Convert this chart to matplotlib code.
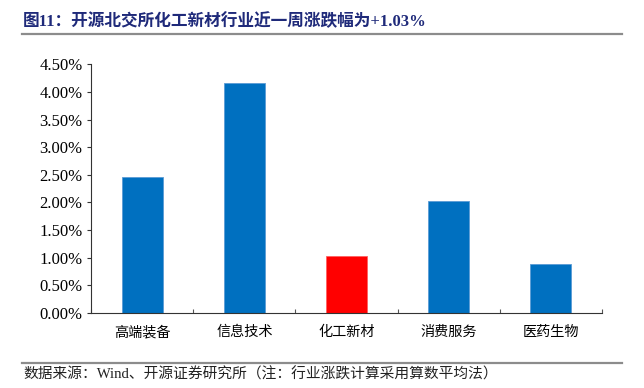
import matplotlib
matplotlib.use("Agg")
import matplotlib.pyplot as plt
from matplotlib.ticker import FuncFormatter, MultipleLocator
from matplotlib.lines import Line2D

categories = ["高端装备", "信息技术", "化工新材", "消费服务", "医药生物"]
values = [2.46, 4.17, 1.03, 2.02, 0.88]
bar_colors = ["#0070C0", "#0070C0", "#FF0000", "#0070C0", "#0070C0"]
title = "图11：开源北交所化工新材行业近一周涨跌幅为+1.03%"
source = "数据来源：Wind、开源证券研究所（注：行业涨跌计算采用算数平均法）"

fams = ["Liberation Serif", "Noto Sans CJK SC", "DejaVu Sans"]
plt.rcParams["font.family"] = fams

fig = plt.figure(figsize=(6.44, 3.88), dpi=100)
ax = fig.add_axes([91/644, 1-312.7/388, (602-91)/644, (312.7-64.3)/388])

x = list(range(len(categories)))
edge = ["#5B9BD5" if c != "#FF0000" else "#FF6060" for c in bar_colors]
ax.bar(x, values, width=0.40, color=bar_colors, edgecolor=edge, linewidth=0.6, zorder=2)

ax.set_xlim(-0.5, len(categories) - 0.5)
ax.set_ylim(0, 4.5)
ax.yaxis.set_major_locator(MultipleLocator(0.5))
ax.yaxis.set_major_formatter(FuncFormatter(lambda v, p: f"{v:.2f}%"))
ax.set_xticks(x)
ax.set_xticklabels(categories, fontsize=10.2, family=["Noto Sans CJK SC"])
ax.set_xticks([i + 0.5 for i in range(-1, len(categories))], minor=True)
ax.tick_params(axis="x", which="major", length=0, pad=9)
ax.tick_params(axis="x", which="minor", direction="in", length=3, width=0.8, color="#555555")
ax.tick_params(axis="y", direction="out", length=3, width=0.8, labelsize=12, color="#333333", pad=3)
for lab in ax.get_yticklabels():
    lab.set_family(["Liberation Serif"])

for s in ["top", "right"]:
    ax.spines[s].set_visible(False)
ax.spines["left"].set_color("#333333")
ax.spines["bottom"].set_color("#333333")
ax.spines["left"].set_linewidth(0.8)
ax.spines["bottom"].set_linewidth(0.8)

fig.text(23/644, 1-21.5/388, title, fontsize=12, fontweight="bold", color="#1F2A7A",
         va="center", ha="left", family=fams)
fig.add_artist(Line2D([22/644, 622/644], [1-33.5/388, 1-33.5/388], color="#8C8C8C", linewidth=1.6))
fig.add_artist(Line2D([22/644, 622/644], [1-362.7/388, 1-362.7/388], color="#8C8C8C", linewidth=1.6))
fig.text(23/644, 1-374.5/388, source, fontsize=10.6, color="#222222", va="center", ha="left", family=fams)

fig.savefig("out.png", dpi=100)
